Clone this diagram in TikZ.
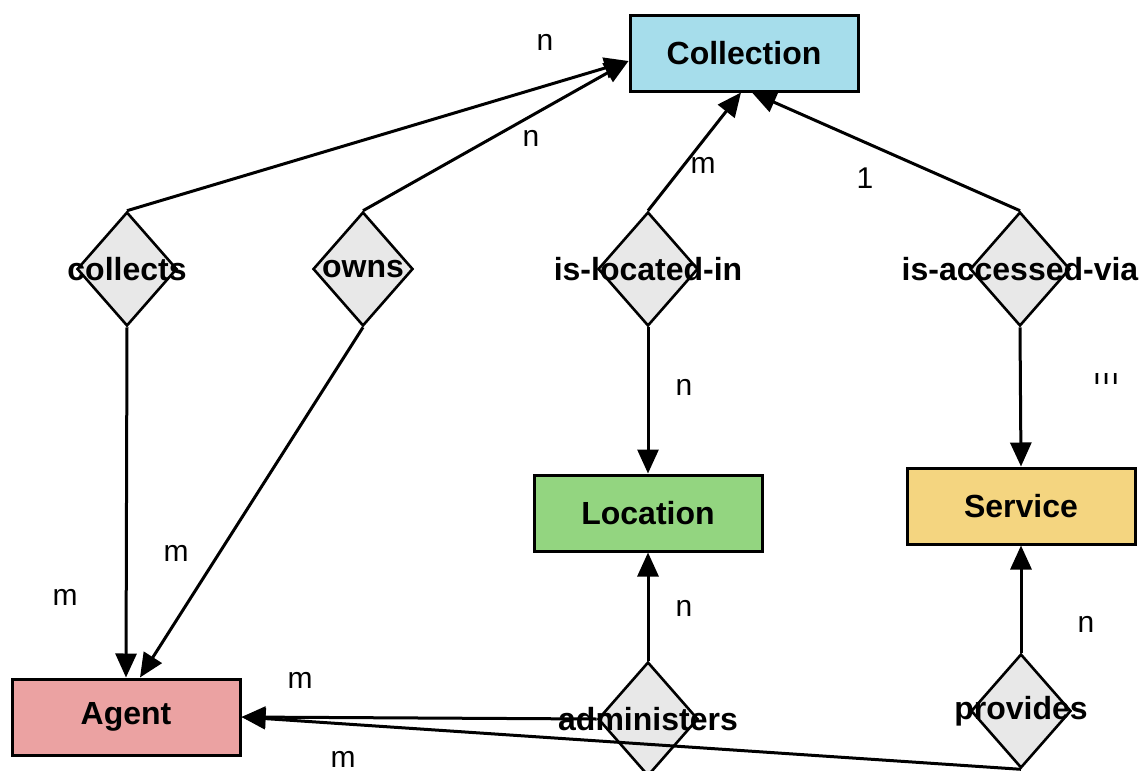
\documentclass[tikz,border=0pt]{standalone}
\usepackage{fontspec}
\setmainfont{Liberation Sans}
\usepackage{tikz}
\usetikzlibrary{shapes.geometric,positioning,arrows.meta,calc}
\definecolor{collectionBG}{HTML}{A6DDEB}
\definecolor{locationBG}{HTML}{93D580}
\definecolor{serviceBG}{HTML}{F4D580}
\definecolor{agentBG}{HTML}{EBA2A2}
\definecolor{relBG}{HTML}{E8E8E8}

\begin{document}
\begin{tikzpicture}[
  x=0.5pt, y=-0.5pt,
  entity/.style={draw, line width=1.5pt, minimum width=114pt, minimum height=38pt,
    font=\bfseries\fontsize{16}{18}\selectfont},
  rel/.style={diamond, draw, fill=relBG, line width=1.3pt, minimum width=50pt,
    minimum height=57pt, inner sep=0pt},
  relname/.style={font=\bfseries\fontsize{16}{18}\selectfont, inner sep=0pt},
  card/.style={font=\fontsize{15}{18}\selectfont, inner sep=0pt},
  arr/.style={-{Triangle[length=12pt,width=10.5pt]}, line width=1.5pt},
]
  \useasboundingbox (0,0) rectangle (1141,771);

  % entities
  \node[entity, fill=collectionBG] (coll) at (744,53) {Collection};
  \node[entity, fill=locationBG] (loc) at (648,513) {Location};
  \node[entity, fill=serviceBG] (serv) at (1021,506) {Service};
  \node[entity, fill=agentBG] (agent) at (126,717) {Agent};

  % relationships
  \node[rel, label={[relname]center:collects}] (collects) at (127,269) {};
  \node[rel, label={[relname]center:owns}] (owns) at (363,269) {};
  \node[rel, label={[relname]center:is-located-in}] (locin) at (648,269) {};
  \node[rel, label={[relname]center:is-accessed-via}] (accvia) at (1020,269) {};
  \node[rel, label={[relname]center:administers}] (admin) at (648,719) {};
  \node[rel, label={[relname]center:provides}] (prov) at (1021,711) {};

  \coordinate (collIn) at ($(coll.west)+(0,8)$);

  \draw[arr] (collects.north) -- (collIn);
  \draw[arr] (owns.north) -- (collIn);
  \draw[arr] (locin.north) -- ([xshift=-1.5pt]coll.south);
  \draw[arr] (accvia.north) -- ([xshift=4pt]coll.south);
  \draw[arr] (collects.south) -- (agent.north);
  \draw[arr] (owns.south) -- ([xshift=7pt]agent.north);
  \draw[arr] (locin.south) -- (loc.north);
  \draw[arr] (accvia.south) -- (serv.north);
  \draw[arr] (admin.north) -- (loc.south);
  \draw[arr] (prov.north) -- (serv.south);
  \draw[arr] (admin.west) -- (agent.east);
  \draw[arr] (prov.south) -- (agent.east);

  % cardinalities
  \node[card] (cCollects) at (545,42) {n};
  \node[card] (cOwns) at (531,138) {n};
  \node[card] (cLocin) at (703,165) {m};
  \node[card] (cAccvia) at (865,178) {1};
  \node[card] (aCollects) at (65,597) {m};
  \node[card] (aOwns) at (176,553) {m};
  \node[card] (lLocin) at (684,387) {n};
  \node[card] (lAdmin) at (684,608) {n};
  \node[card] (sProv) at (1086,624) {n};
  \node[card] (aAdmin) at (300,680) {m};
  \node[card] (aProv) at (343,759) {m};
  \begin{scope}
    \clip (1080,373) rectangle (1130,392);
    \node[card] (sAccvia) at (1106,376) {m};
  \end{scope}
\end{tikzpicture}
\end{document}
